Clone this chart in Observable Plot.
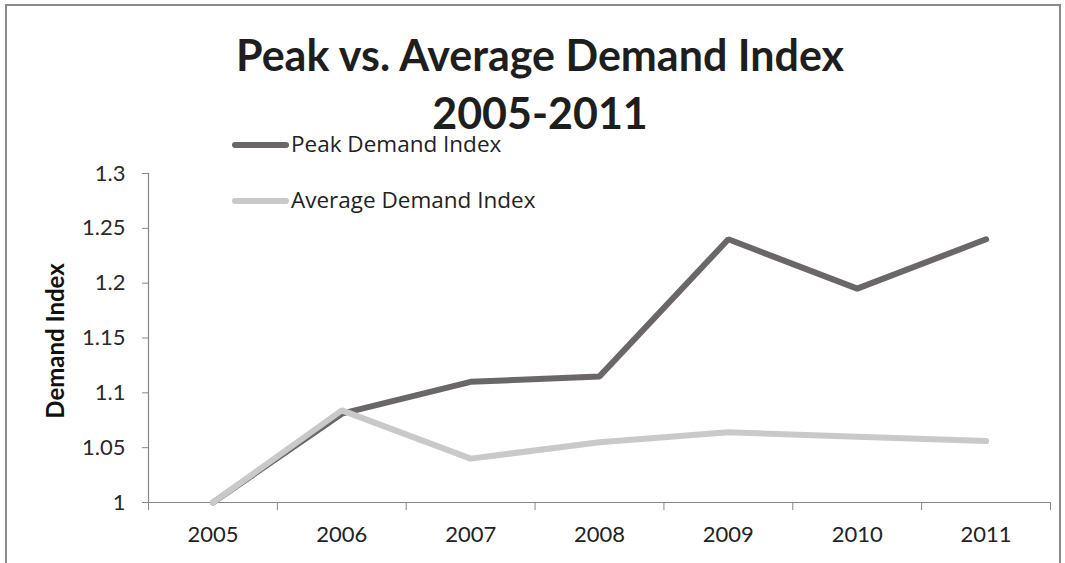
<!DOCTYPE html>
<html>
<head>
<meta charset="utf-8">
<script src="https://cdn.jsdelivr.net/npm/d3@7"></script>
<script src="https://cdn.jsdelivr.net/npm/@observablehq/plot@0.6"></script>
<style>
  html, body { margin: 0; padding: 0; background: #fff; }
  #wrap { position: relative; width: 1065px; height: 563px; overflow: hidden; font-family: Lato, "Open Sans", sans-serif; }
  #frame { position: absolute; left: 5px; top: 4px; width: 1056px; height: 570px; border: 2px solid #8a8a8a; box-sizing: border-box; }
  .title { position: absolute; left: 0; width: 1080px; text-align: center; font-weight: bold; font-size: 43px; line-height: 0.95; color: #1e1e1e; white-space: nowrap; }
  .leg { position: absolute; left: 232px; font-family: "Open Sans", Lato, sans-serif; font-size: 22.5px; line-height: 0.8; color: #222; display: flex; align-items: center; white-space: nowrap; }
  .leg span.sw { display: inline-block; width: 57px; height: 6px; border-radius: 3px; margin-right: 2px; position: relative; top: 1px; }
  #chart { position: absolute; left: 0; top: 0; }
</style>
</head>
<body>
<div id="wrap">
  <div id="chart"></div>
  <div id="frame"></div>
  <div class="title" style="top:35px">Peak vs. Average Demand Index</div>
  <div class="title" style="top:93px">2005-2011</div>
  <div class="leg" style="top:134.5px"><span class="sw" style="background:#6b6769"></span>Peak Demand Index</div>
  <div class="leg" style="top:190.5px"><span class="sw" style="background:#c9c9c9"></span>Average Demand Index</div>
</div>
<script>
const years = [2005, 2006, 2007, 2008, 2009, 2010, 2011];
const peakDemand = [1.0, 1.081, 1.11, 1.115, 1.24, 1.195, 1.24];
const averageDemand = [1.0, 1.084, 1.04, 1.055, 1.064, 1.06, 1.056];
const yTicks = [1, 1.05, 1.1, 1.15, 1.2, 1.25, 1.3];
const seriesNames = ["Peak Demand Index", "Average Demand Index"];
const seriesColors = ["#6b6769", "#c9c9c9"];

const peakRows = years.map((y, i) => ({year: y, value: peakDemand[i], series: seriesNames[0]}));
const avgRows = years.map((y, i) => ({year: y, value: averageDemand[i], series: seriesNames[1]}));
const edges = years.map(y => y - 0.5).concat([years[years.length - 1] + 0.5]);

const chart = Plot.plot({
  width: 1065,
  height: 563,
  marginLeft: 148,
  marginRight: 15,
  marginTop: 173,
  marginBottom: 61,
  style: {fontFamily: "Lato, 'Open Sans', sans-serif", fontSize: "22px", color: "#333", background: "transparent"},
  x: {domain: [years[0] - 0.5, years[years.length - 1] + 0.5]},
  y: {domain: [1, 1.3]},
  marks: [
    Plot.axisY({ticks: yTicks, tickSize: 6, tickPadding: 17, tickFormat: d => String(+d.toFixed(2)), label: null, stroke: "#888", fill: "#2a2a2a", fontSize: 22}),
    Plot.axisX({ticks: edges, tickSize: 8, tickFormat: () => "", label: null, stroke: "#888"}),
    Plot.axisX({ticks: years, tickSize: 0, tickPadding: 24, tickFormat: d => String(d), label: null, fill: "#222", fontSize: 22}),
    Plot.ruleY([1], {stroke: "#888", strokeWidth: 1.2}),
    Plot.ruleX([edges[0]], {y1: 1, y2: 1.3, stroke: "#888", strokeWidth: 1.2}),
    Plot.text(["Demand Index"], {frameAnchor: "left", textAnchor: "middle", dx: -92, dy: 3, rotate: -90, fontWeight: "bold", fontSize: 24, fill: "#111"}),
    Plot.line(peakRows, {x: "year", y: "value", stroke: seriesColors[0], strokeWidth: 6, strokeLinejoin: "miter", strokeLinecap: "round"}),
    Plot.line(avgRows, {x: "year", y: "value", stroke: seriesColors[1], strokeWidth: 6, strokeLinejoin: "miter", strokeLinecap: "round"})
  ]
});
document.getElementById("chart").appendChild(chart);
</script>
</body>
</html>
